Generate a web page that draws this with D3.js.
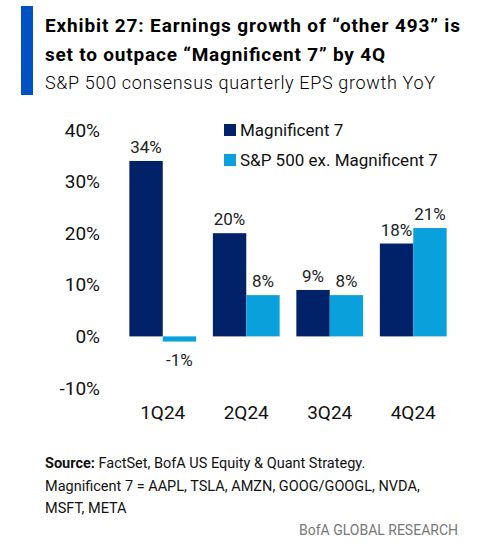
<!DOCTYPE html>
<html><head><meta charset="utf-8">
<script src="https://cdn.jsdelivr.net/npm/d3@7"></script>
<style>body{margin:0;background:#fff;font-family:Roboto,"Noto Sans",sans-serif}</style>
</head><body>
<script>
const categories = ["1Q24", "2Q24", "3Q24", "4Q24"]
const seriesNames = ["Magnificent 7", "S&P 500 ex. Magnificent 7"]
const mag7 = [34, 20, 9, 18]
const other493 = [-1, 8, 8, 21]
const yTicks = [-10, 0, 10, 20, 30, 40]
const colors = ["#012169", "#0aa0dc"]

const svg = d3.select("body").append("svg").attr("width", 502).attr("height", 560)

// header
svg.append("rect").attr("x", 21).attr("y", 6).attr("width", 12).attr("height", 89).attr("fill", "#0052c2")
svg.append("text").attr("x", 45).attr("y", 32).attr("font-size", 19).attr("font-weight", "bold")
  .attr("textLength", 415).text("Exhibit 27: Earnings growth of “other 493” is")
svg.append("text").attr("x", 45).attr("y", 61).attr("font-size", 19).attr("font-weight", "bold")
  .attr("textLength", 340).text("set to outpace “Magnificent 7” by 4Q")
svg.append("text").attr("x", 45).attr("y", 89).attr("font-size", 18).attr("font-weight", 300)
  .attr("textLength", 390).text("S&P 500 consensus quarterly EPS growth YoY")

const y = d3.scaleLinear().domain([-10, 40]).range([388, 130])
const x = d3.scaleBand().domain(categories).range([121, 455]).paddingInner(0.2).paddingOuter(0.1)
const x1 = d3.scaleBand().domain([0, 1]).range([0, x.bandwidth()])

// y axis labels
svg.append("g").selectAll("text").data(yTicks).join("text")
  .attr("x", 100).attr("y", d => y(d)).attr("dy", "0.35em").attr("text-anchor", "end")
  .attr("font-size", 19).attr("fill", "#111").text(d => d + "%")

const rows = categories.map((c, i) => ({ c, vals: [mag7[i], other493[i]] }))
const g = svg.append("g").selectAll("g").data(rows).join("g").attr("transform", d => `translate(${x(d.c)},0)`)
g.selectAll("rect").data(d => d.vals).join("rect")
  .attr("x", (d, i) => x1(i)).attr("width", x1.bandwidth())
  .attr("y", d => y(Math.max(0, d))).attr("height", d => Math.abs(y(d) - y(0)))
  .attr("fill", (d, i) => colors[i])
g.selectAll("text.v").data(d => d.vals).join("text").attr("class", "v")
  .attr("x", (d, i) => x1(i) + x1.bandwidth() / 2)
  .attr("y", d => d >= 0 ? y(d) - 8 : y(d) + 24)
  .attr("text-anchor", "middle").attr("font-size", 17).attr("fill", "#222").text(d => d + "%")

// category labels
svg.append("g").selectAll("text").data(categories).join("text")
  .attr("x", d => x(d) + x.bandwidth() / 2).attr("y", 419).attr("text-anchor", "middle")
  .attr("font-size", 19).attr("fill", "#111").text(d => d)

// legend
const lg = svg.append("g").selectAll("g").data(seriesNames).join("g")
  .attr("transform", (d, i) => `translate(224,${130 + i * 30})`)
lg.append("rect").attr("y", -6).attr("width", 12).attr("height", 12).attr("fill", (d, i) => colors[i])
lg.append("text").attr("x", 16).attr("dy", "0.35em").attr("font-size", 17).attr("fill", "#111").text(d => d)

// footer
const ft = svg.append("text").attr("x", 45).attr("y", 468).attr("font-size", 14.5).attr("fill", "#111")
ft.append("tspan").attr("font-weight", "bold").text("Source:")
ft.append("tspan").text(" FactSet, BofA US Equity & Quant Strategy.")
svg.append("text").attr("x", 45).attr("y", 491).attr("font-size", 14.5).attr("fill", "#111")
  .text("Magnificent 7 = AAPL, TSLA, AMZN, GOOG/GOOGL, NVDA,")
svg.append("text").attr("x", 45).attr("y", 513).attr("font-size", 14.5).attr("fill", "#111").text("MSFT, META")
svg.append("text").attr("x", 458).attr("y", 535).attr("text-anchor", "end").attr("font-size", 14)
  .attr("fill", "#777").text("BofA GLOBAL RESEARCH")
</script>
</body></html>
